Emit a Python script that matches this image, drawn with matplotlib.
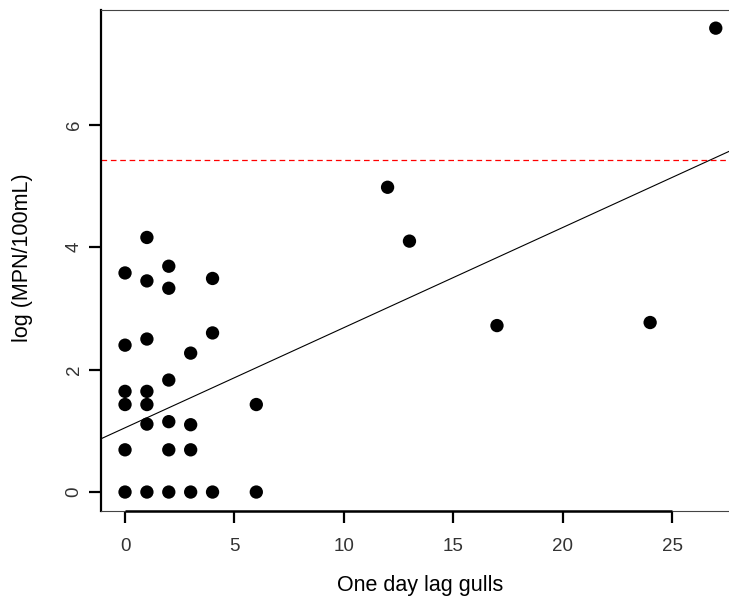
import matplotlib
matplotlib.use("Agg")
import matplotlib.pyplot as plt
import numpy as np

# Gull counts (previous day) and log bacterial concentrations
gulls = [0, 0, 0, 0, 0, 0,
         1, 1, 1, 1, 1, 1, 1,
         2, 2, 2, 2, 2, 2,
         3, 3, 3, 3,
         4, 4, 4,
         6, 6,
         12, 13, 17, 24, 27]
log_mpn = [0.00, 0.69, 1.43, 1.645, 2.40, 3.58,
           0.00, 1.11, 1.43, 1.645, 2.50, 3.45, 4.16,
           0.00, 0.69, 1.15, 1.83, 3.33, 3.69,
           0.00, 0.69, 1.10, 2.27,
           0.00, 2.60, 3.49,
           0.00, 1.43,
           4.98, 4.10, 2.72, 2.77, 7.58]

# Fitted regression line and the water-quality threshold
fit_intercept = 1.05
fit_slope = 0.1636
threshold = 5.42

x_ticks = [0, 5, 10, 15, 20, 25]
y_ticks = [0, 2, 4, 6]

plt.rcParams["font.family"] = ["Liberation Sans", "DejaVu Sans"]

W, H = 729, 598
fig = plt.figure(figsize=(W / 100, H / 100), dpi=100)

# R-style ranges: data range padded by 4% on each side
xmin, xmax = min(gulls), max(gulls)
ymin, ymax = min(log_mpn), max(log_mpn)
xpad = 0.04 * (xmax - xmin)
ypad = 0.04 * (ymax - ymin)
xlim = (xmin - xpad, xmax + xpad)
ylim = (ymin - ypad, ymax + ypad)

left_px, right_px = 101.4, 739.4
bottom_px, top_px = 510.6, 9.6
ax = fig.add_axes([left_px / W, 1 - bottom_px / H,
                   (right_px - left_px) / W, (bottom_px - top_px) / H])
ax.set_xlim(*xlim)
ax.set_ylim(*ylim)

ax.scatter(gulls, log_mpn, s=92, color="black", edgecolors="none", zorder=3)

xs = np.array(xlim)
ax.plot(xs, fit_intercept + fit_slope * xs, color="black", lw=0.8, zorder=2)
ax.axhline(threshold, color="#ff0000", lw=0.9, dashes=(4.5, 3), zorder=2)

for side in ("top", "right", "bottom"):
    ax.spines[side].set_linewidth(0.8)
    ax.spines[side].set_color("#444444")
ax.spines["left"].set_linewidth(1.6)
ax.spines["left"].set_color("black")

# Heavier axis line between the first and last x tick
ax.plot([x_ticks[0], x_ticks[-1]], [ylim[0], ylim[0]], color="black",
        lw=1.8, clip_on=False, zorder=4, solid_capstyle="butt")

ax.set_xticks(x_ticks)
ax.set_yticks(y_ticks)
ax.set_xticklabels([str(t) for t in x_ticks])
ax.set_yticklabels([str(t) for t in y_ticks], rotation=90, va="center")
ax.tick_params(direction="out", length=8.5, width=1.6, color="black",
               labelsize=13.5, labelcolor="#333333")
ax.tick_params(axis="x", pad=11)
ax.tick_params(axis="y", pad=5)

x_mid = (left_px + right_px) / 2
fig.text(x_mid / W, 1 - 591 / H, "One day lag gulls", fontsize=15.5,
         ha="center", va="baseline", color="black")
fig.text(23 / W, 1 - 258 / H, "log (MPN/100mL)", rotation=90, fontsize=15.5,
         ha="center", va="center", color="black")

fig.savefig("out.png", dpi=100, facecolor="white")
